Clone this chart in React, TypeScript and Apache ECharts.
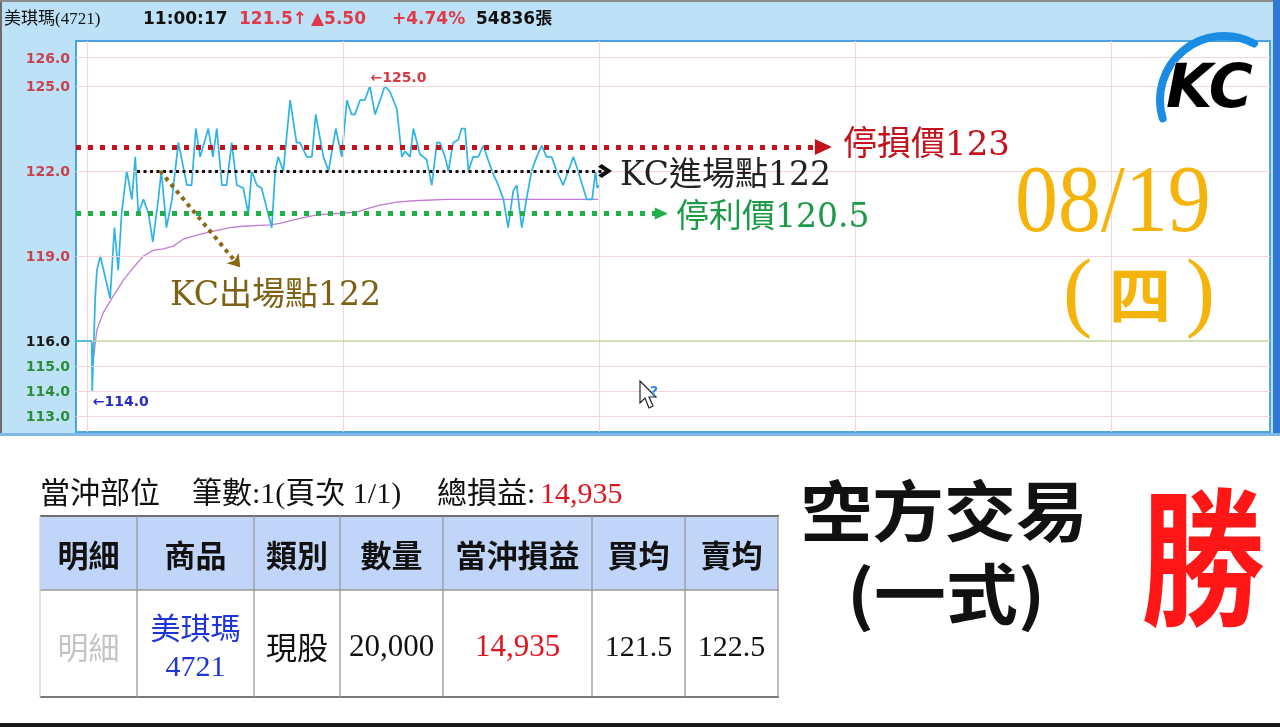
import React, { useEffect, useRef } from "react";
import * as echarts from "echarts";

// ---------------- data ----------------
const refPrice = 116;
// minutes after 09:00
const priceTimes = [1.1, 1.2, 1.9, 2.3, 3.1, 5.4, 6.4, 7.3, 8.1, 9.3, 10.5, 11.3, 12.0, 13.2, 14.4, 15.4, 16.7, 17.4, 18.6, 19.9, 21.4, 23.4, 24.5, 25.5, 26.5, 28.4, 29.5, 30.4, 31.6, 32.7, 33.9, 35.1, 36.6, 37.8, 38.6, 39.8, 40.9, 43.3, 44.1, 44.8, 46.0, 47.6, 49.1, 49.9, 51.5, 52.7, 53.6, 55.4, 56.6, 58.3, 59.7, 60.9, 62.0, 62.8, 64.0, 65.1, 66.3, 67.5, 68.7, 69.8, 71.0, 72.6, 73.8, 74.5, 75.7, 76.5, 78.0, 79.6, 80.8, 82.0, 82.7, 83.9, 84.7, 85.8, 87.0, 87.8, 88.6, 89.4, 90.5, 91.7, 92.9, 94.0, 95.2, 96.4, 97.6, 98.7, 99.9, 100.7, 101.9, 103.0, 104.2, 105.4, 106.6, 107.7, 108.9, 110.1, 111.6, 112.8, 114.0, 115.1, 117.1, 118.4, 119.2, 119.6, 120.0];
const prices = [116.0, 114.0, 117.5, 118.5, 119.0, 117.5, 120.0, 118.5, 120.5, 122.0, 121.0, 122.5, 120.5, 121.0, 120.5, 119.5, 121.0, 122.0, 120.0, 121.0, 123.0, 121.5, 121.5, 123.5, 122.5, 123.5, 122.5, 123.5, 121.5, 121.5, 123.0, 121.5, 121.4, 120.5, 122.0, 121.5, 121.4, 120.0, 122.0, 122.5, 122.0, 124.5, 123.0, 123.0, 122.5, 122.5, 124.0, 122.5, 122.0, 123.5, 122.5, 124.5, 124.0, 124.0, 124.5, 124.5, 125.0, 124.0, 124.5, 125.0, 124.8, 124.2, 122.5, 122.7, 122.5, 123.5, 122.6, 122.4, 121.5, 123.0, 123.0, 122.5, 122.0, 123.0, 123.1, 123.5, 123.5, 122.0, 122.5, 122.5, 122.9, 122.4, 121.9, 121.5, 121.0, 120.0, 121.3, 121.5, 120.0, 121.0, 122.0, 122.5, 122.9, 122.5, 122.5, 122.0, 121.5, 122.0, 122.5, 122.0, 121.0, 121.0, 122.0, 121.4, 121.5];
const avgTimes = [1.5, 2.3, 3.8, 6.2, 8.5, 10.9, 13.2, 15.5, 17.9, 20.2, 22.6, 24.9, 28.8, 33.5, 36.6, 42.9, 45.2, 49.1, 53.8, 58.5, 63.2, 66.3, 68.7, 72.6, 76.5, 84.3, 92.1, 103.8, 119.8];
const avgPrices = [115.3, 116.4, 117.0, 117.6, 118.15, 118.6, 119.0, 119.2, 119.25, 119.35, 119.6, 119.7, 119.85, 120.0, 120.05, 120.1, 120.15, 120.3, 120.45, 120.5, 120.55, 120.7, 120.8, 120.9, 120.95, 121.0, 121.0, 121.0, 121.0];
const yTickValues = [113, 114, 115, 116, 119, 122, 125, 126];
const hourLines = [0, 60, 120, 180, 240];

// hand-drawn annotation levels
const stopLossLevel = 122.85;
const entryLevel = 122;
const takeProfitLevel = 120.5;
const exitArrowFrom = [17.1, 122.0];
const exitArrowTo = [35.9, 118.6];

// header / table texts
const headerStock = "美琪瑪(4721)";
const headerTime = "11:00:17";
const headerPrice = "121.5↑";
const headerChange = "▲5.50";
const headerPct = "+4.74%";
const headerVol = "54836張";
const tableHeaders = ["明細", "商品", "類別", "數量", "當沖損益", "買均", "賣均"];
const tableColumns = [40, 137, 254, 340, 443, 592, 685, 778];

// ---------------- axis helpers ----------------
const UPPER_PX = 28.33; // px per 1.0 above reference
const LOWER_PX = 25; // px per 1.0 below reference
const toAxis = (v: number) => (v >= refPrice ? v : refPrice - ((refPrice - v) * LOWER_PX) / UPPER_PX);
const fromAxis = (a: number) => (a >= refPrice ? a : refPrice - ((refPrice - a) * UPPER_PX) / LOWER_PX);
const X_MIN = -2.6;
const X_MAX = 277.3;

const CJK = '"Noto Sans CJK TC", sans-serif';
const SERIF_MIX = '"DejaVu Serif", "Noto Sans CJK TC", serif';
const TIMES_MIX = '"Liberation Serif", "Noto Sans CJK TC", serif';
const BOLD_SANS = '"DejaVu Sans", "Noto Sans CJK TC", sans-serif';

function txt(text: string, x: number, y: number, size: number, fill: string, o: any = {}) {
  return {
    type: "text",
    x,
    y,
    z: o.z ?? 20,
    scaleX: o.sx ?? 1,
    scaleY: o.sy ?? 1,
    silent: true,
    style: {
      text,
      fill,
      fontSize: size,
      fontFamily: o.family ?? CJK,
      fontWeight: o.weight ?? "normal",
      fontStyle: o.style ?? "normal",
      align: o.align ?? "left",
      verticalAlign: "middle",
      lineHeight: o.lh ?? size,
    },
  };
}

export default function App() {
  const ref = useRef<HTMLDivElement>(null);
  useEffect(() => {
    if (!ref.current) return;
    const chart = echarts.init(ref.current, undefined, { renderer: "svg" });

    const priceData = priceTimes.map((t, i) => [t, toAxis(prices[i])]);
    const avgData = avgTimes.map((t, i) => [t, toAxis(avgPrices[i])]);
    const maxIdx = prices.indexOf(Math.max(...prices));
    const minIdx = prices.indexOf(Math.min(...prices));

    const orange = "#f5b40c";
    const chevron = "path://M5,0 L10,7 L8,9.5 L5,5 L2,9.5 L0,7 Z";

    const graphic: any[] = [
      // backgrounds
      { type: "rect", z: -10, shape: { x: 0, y: 0, width: 1280, height: 727 }, style: { fill: "#ffffff" } },
      { type: "rect", z: -9, shape: { x: 0, y: 0, width: 1280, height: 436 }, style: { fill: "#bde2f7" } },
      { type: "rect", z: -8, shape: { x: 0, y: 0, width: 2, height: 436 }, style: { fill: "#6d6d6d" } },
      { type: "rect", z: -8, shape: { x: 0, y: 0, width: 1280, height: 2 }, style: { fill: "#8a8a8a" } },
      { type: "rect", z: -8, shape: { x: 1273, y: 0, width: 7, height: 436 }, style: { fill: "#2f78d6" } },
      { type: "rect", z: -8, shape: { x: 0, y: 433, width: 1280, height: 3 }, style: { fill: "#7fb8e6" } },
      { type: "rect", z: -8, shape: { x: 0, y: 723, width: 1280, height: 4 }, style: { fill: "#1a1a1a" } },
      // header
      txt(headerStock, 4, 18, 17, "#111", { family: TIMES_MIX }),
      txt(headerTime, 143, 18, 17, "#111", { family: BOLD_SANS, weight: "bold" }),
      txt(headerPrice, 239, 18, 17, "#e03a48", { family: BOLD_SANS, weight: "bold" }),
      txt(headerChange, 311, 18, 17, "#e03a48", { family: BOLD_SANS, weight: "bold" }),
      txt(headerPct, 392, 18, 17, "#e03a48", { family: BOLD_SANS, weight: "bold" }),
      txt(headerVol, 476, 18, 17, "#111", { family: BOLD_SANS, weight: "bold" }),
      // annotations
      txt("停損價123", 843, 143, 34, "#c3121c", { family: SERIF_MIX }),
      txt("KC進場點122", 620, 173, 33, "#222222", { family: SERIF_MIX }),
      txt("停利價120.5", 676, 215, 33, "#1b9a47", { family: SERIF_MIX }),
      txt("KC出場點122", 170, 293, 33, "#7d6115", { family: SERIF_MIX }),
      // date
      txt("08/19", 1015, 199, 86, orange, { family: TIMES_MIX, sy: 1.1 }),
      txt("(", 1063, 290, 88, orange, { family: TIMES_MIX }),
      txt("四", 1140, 292, 62, orange, { family: CJK, weight: "bold", align: "center" }),
      txt(")", 1215, 290, 88, orange, { family: TIMES_MIX, align: "right" }),
      // logo
      {
        type: "arc",
        z: 15,
        silent: true,
        shape: { cx: 1224, cy: 100, r: 64, startAngle: 2.85, endAngle: 5.2, clockwise: true },
        style: { stroke: "#1b8ce4", lineWidth: 8, fill: "none", lineCap: "round" },
      },
      {
        type: "text",
        x: 1166,
        y: 86,
        z: 16,
        silent: true,
        style: {
          text: "KC",
          fontSize: 60,
          fontWeight: "bold",
          fontStyle: "italic",
          fontFamily: '"DejaVu Sans"',
          verticalAlign: "middle",
          fill: new echarts.graphic.LinearGradient(0, 0, 0, 1, [
            { offset: 0, color: "#5fd0ff" },
            { offset: 1, color: "#1565c8" },
          ]),
          stroke: "#ffffff",
          lineWidth: 1,
        },
      },
      // cursor
      {
        type: "polygon",
        z: 30,
        silent: true,
        shape: { points: [[640, 381], [640, 403], [645, 398], [649, 408], [653, 406], [649, 397], [656, 397]] },
        style: { fill: "#ffffff", stroke: "#222", lineWidth: 1.2 },
      },
      txt("?", 650, 391, 14, "#2f86e0", { family: '"DejaVu Sans"', weight: "bold", z: 31 }),
      // position summary line
      txt("當沖部位", 40, 492, 30, "#111", { family: TIMES_MIX }),
      txt("筆數:1(頁次 1/1)", 192, 492, 30, "#111", { family: TIMES_MIX }),
      txt("總損益:", 437, 492, 30, "#111", { family: TIMES_MIX }),
      txt("14,935", 540, 492, 30, "#e0141c", { family: TIMES_MIX }),
      // table
      { type: "rect", z: 1, shape: { x: 40, y: 515, width: 738, height: 75 }, style: { fill: "#c1d5f8" } },
      { type: "line", z: 3, shape: { x1: 40, y1: 516, x2: 779, y2: 516 }, style: { stroke: "#6f6f6f", lineWidth: 2 } },
      { type: "line", z: 3, shape: { x1: 40, y1: 590, x2: 779, y2: 590 }, style: { stroke: "#9a9a9a", lineWidth: 1.5 } },
      { type: "line", z: 3, shape: { x1: 40, y1: 697, x2: 779, y2: 697 }, style: { stroke: "#7a7a7a", lineWidth: 2 } },
      ...tableColumns.map((cx) => ({
        type: "line",
        z: 3,
        shape: { x1: cx, y1: 516, x2: cx, y2: 697 },
        style: { stroke: cx === 40 ? "#d0d0d0" : "#9a9a9a", lineWidth: 1.3 },
      })),
      ...tableHeaders.map((h, i) =>
        txt(h, (tableColumns[i] + tableColumns[i + 1]) / 2, 553, 31, "#111", { weight: "bold", align: "center" })
      ),
      txt("明細", 88.5, 645, 31, "#c4c4c4", { align: "center" }),
      txt("美琪瑪", 195.5, 626, 30, "#1f34d6", { align: "center" }),
      txt("4721", 195.5, 665, 30, "#1f34d6", { family: TIMES_MIX, align: "center" }),
      txt("現股", 297, 645, 31, "#111", { align: "center" }),
      txt("20,000", 391.5, 645, 31, "#111", { family: TIMES_MIX, align: "center" }),
      txt("14,935", 517.5, 645, 31, "#e0141c", { family: TIMES_MIX, align: "center" }),
      txt("121.5", 638.5, 645, 30, "#111", { family: TIMES_MIX, align: "center" }),
      txt("122.5", 731.5, 645, 30, "#111", { family: TIMES_MIX, align: "center" }),
      // right side texts
      txt("空方交易", 944, 507, 66, "#111", { weight: "bold", align: "center", sx: 1.09 }),
      txt("(一式)", 946, 590, 66, "#111", { weight: "bold", align: "center", sx: 1.09 }),
      txt("勝", 1203, 549, 124, "#ff1616", { weight: "bold", align: "center", sy: 1.2 }),
    ];

    const gridMarks = [
      ...hourLines.map((h) => ({ xAxis: h, lineStyle: { color: "#f4d4d8", width: 1, type: "solid" } })),
      ...yTickValues.map((v) => ({
        yAxis: toAxis(v),
        lineStyle: { color: v === refPrice ? "#c5d79e" : "#f4d4d8", width: v === refPrice ? 1.5 : 1, type: "solid" },
      })),
    ];

    const dotted = (from: number[], to: number[], color: string, width: number, dash: number[], sym: string, symSize: any) => [
      { coord: from, symbol: "none", lineStyle: { color, width, type: dash, cap: "butt" } },
      { coord: to, symbol: sym, symbolSize: symSize, lineStyle: { color, width, type: dash, cap: "butt" } },
    ];

    const option: any = {
      animation: false,
      graphic,
      grid: {
        left: 76,
        right: 10,
        top: 41,
        bottom: 295,
        show: true,
        backgroundColor: "#ffffff",
        borderColor: "#4ba3df",
        borderWidth: 2,
      },
      xAxis: {
        type: "value",
        min: X_MIN,
        max: X_MAX,
        show: false,
        splitLine: { show: false },
      },
      yAxis: {
        type: "value",
        min: toAxis(refPrice - (432 - 341) / LOWER_PX),
        max: refPrice + (341 - 41) / UPPER_PX,
        axisLine: { show: false },
        axisTick: { show: false },
        splitLine: { show: false },
        axisLabel: {
          customValues: yTickValues.map(toAxis),
          margin: 6,
          formatter: (a: number) => {
            const v = Math.round(fromAxis(a) * 10) / 10;
            const key = v > refPrice ? "up" : v === refPrice ? "ref" : "dn";
            return `{${key}|${v.toFixed(1)}}`;
          },
          rich: {
            up: { color: "#c8434d", fontWeight: "bold", fontSize: 14, fontFamily: "DejaVu Sans" },
            ref: { color: "#1a1a1a", fontWeight: "bold", fontSize: 14, fontFamily: "DejaVu Sans" },
            dn: { color: "#2c8c38", fontWeight: "bold", fontSize: 14, fontFamily: "DejaVu Sans" },
          },
        },
      },
      series: [
        {
          name: "grid",
          type: "line",
          data: [],
          z: 1,
          markLine: { silent: true, symbol: ["none", "none"], label: { show: false }, data: gridMarks },
        },
        {
          name: "均價",
          type: "line",
          data: avgData,
          z: 2,
          showSymbol: false,
          lineStyle: { color: "#c47bd5", width: 1.3 },
          itemStyle: { color: "#c47bd5" },
        },
        {
          name: "成交價",
          type: "line",
          data: priceData,
          z: 3,
          showSymbol: false,
          lineStyle: { color: "#2db3e6", width: 1.7 },
          itemStyle: { color: "#2db3e6" },
          markLine: {
            silent: true,
            symbol: ["none", "none"],
            label: { show: false },
            data: [
              [
                { coord: [X_MIN, refPrice], lineStyle: { color: "#2db3e6", width: 1.5, type: "solid" } },
                { coord: [priceTimes[0], refPrice], lineStyle: { color: "#2db3e6", width: 1.5, type: "solid" } },
              ],
            ],
          },
          markPoint: {
            silent: true,
            symbol: "circle",
            symbolSize: 1,
            itemStyle: { color: "rgba(0,0,0,0)" },
            data: [
              {
                coord: [priceTimes[maxIdx], toAxis(prices[maxIdx])],
                label: {
                  show: true,
                  position: "right",
                  distance: 0,
                  offset: [0, -9],
                  formatter: "←" + prices[maxIdx].toFixed(1),
                  color: "#d83a44",
                  fontWeight: "bold",
                  fontSize: 14,
                  fontFamily: "DejaVu Sans",
                },
              },
              {
                coord: [priceTimes[minIdx], toAxis(prices[minIdx])],
                label: {
                  show: true,
                  position: "right",
                  distance: 0,
                  offset: [0, 10],
                  formatter: "←" + prices[minIdx].toFixed(1),
                  color: "#2a2ac6",
                  fontWeight: "bold",
                  fontSize: 14,
                  fontFamily: "DejaVu Sans",
                },
              },
            ],
          },
        },
        {
          name: "annotations",
          type: "line",
          data: [],
          z: 5,
          markLine: {
            silent: true,
            label: { show: false },
            data: [
              dotted([X_MIN, stopLossLevel], [172.6, stopLossLevel], "#c3121c", 5, [5, 7], "triangle", [16, 17]),
              dotted([X_MIN, takeProfitLevel], [134.6, takeProfitLevel], "#1fb04c", 5, [5, 7], "triangle", [12, 13]),
              dotted([11.7, entryLevel], [121.4, entryLevel], "#111111", 3, [3, 3.5], chevron, [14, 14]),
              dotted(exitArrowFrom, exitArrowTo, "#8a6a16", 4, [4, 4.5], "arrow", [12, 12]),
            ],
          },
        },
      ],
    };

    chart.setOption(option);
    return () => chart.dispose();
  }, []);

  return <div ref={ref} style={{ position: "fixed", left: 0, top: 0, width: 1280, height: 727 }} />;
}
